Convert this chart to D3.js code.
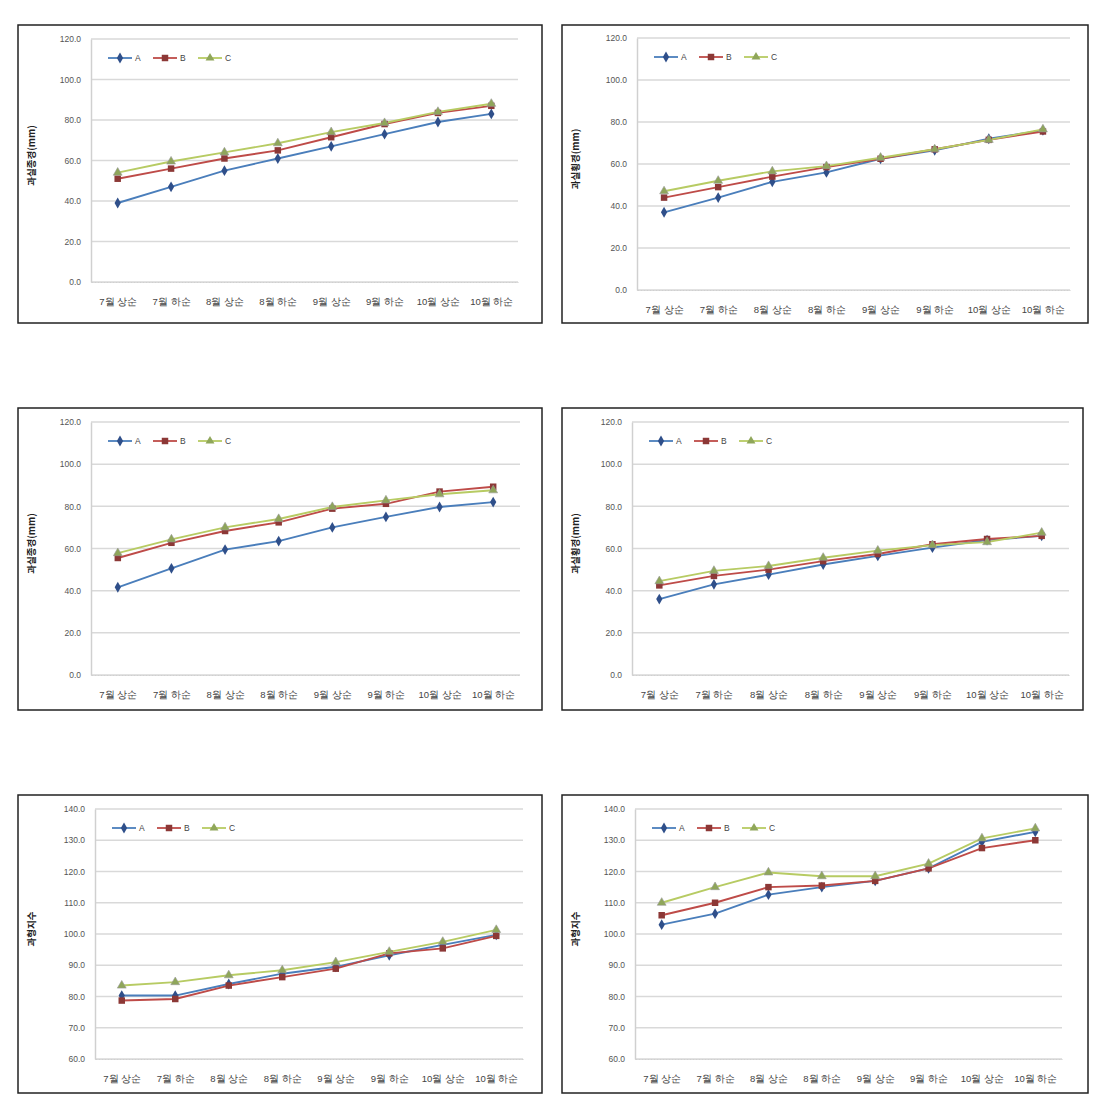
<!DOCTYPE html>
<html><head><meta charset="utf-8">
<script src="https://cdn.jsdelivr.net/npm/d3@7"></script>
<style>body{margin:0;background:#fff;} svg{display:block;font-family:"Noto Sans CJK KR","Noto Sans",sans-serif;}</style>
</head><body>
<svg id="c" width="1113" height="1118"></svg>
<script>
const categories = ["7월 상순","7월 하순","8월 상순","8월 하순","9월 상순","9월 하순","10월 상순","10월 하순"];
const seriesNames = ["A","B","C"];

const ticksSmall = [0,20,40,60,80,100,120];
const ticksLarge = [60,70,80,90,100,110,120,130,140];

const p1A = [39, 47, 55, 61, 67, 73, 79, 83];
const p1B = [51, 56, 61, 65, 71.5, 78, 83.5, 87];
const p1C = [54, 59.5, 64, 68.5, 74, 78.5, 84, 88];

const p2A = [37, 44, 51.5, 56, 62.5, 66.5, 72, 76];
const p2B = [44, 49, 54, 58.5, 62.5, 67, 71.5, 75.5];
const p2C = [47, 52, 56.5, 59, 63, 67, 71.5, 76.5];

const p3A = [41.6, 50.6, 59.5, 63.5, 70, 75, 79.7, 82];
const p3B = [55.5, 62.7, 68.3, 72.4, 78.9, 81.2, 87, 89.3];
const p3C = [57.8, 64.3, 70, 74, 79.7, 82.8, 85.7, 87.6];

const p4A = [36, 43, 47.6, 52.4, 56.5, 60.4, 64, 66];
const p4B = [42.5, 47, 50, 54, 57.4, 62, 64.5, 66];
const p4C = [44.5, 49.4, 51.7, 55.6, 59, 61.6, 63, 67.5];

const p5A = [80.3, 80.3, 84, 87.3, 89.5, 93.2, 96.5, 99.7];
const p5B = [78.7, 79.2, 83.5, 86.2, 88.9, 93.8, 95.4, 99.4];
const p5C = [83.5, 84.6, 86.8, 88.4, 91, 94.3, 97.5, 101.3];

const p6A = [103, 106.5, 112.6, 115, 117, 121, 129.5, 132.7];
const p6B = [106, 110, 115, 115.5, 117, 121, 127.5, 130];
const p6C = [110, 115, 119.7, 118.5, 118.5, 122.5, 130.6, 133.8];

const titles = ["과실종경(mm)","과실횡경(mm)","과실종경(mm)","과실횡경(mm)","과형지수","과형지수"];

const colors = ["#4A7EBB","#BE4B48","#B7CB63"];
const markerColors = ["#2F4F8A","#8C3836","#8FA65A"];
const symbols = [d3.symbolDiamond, d3.symbolSquare, d3.symbolTriangle];

const panels = [
  {box:[18,25,524,298], plot:[91,518,39,282], ticks:ticksSmall, data:[p1A,p1B,p1C], title:titles[0]},
  {box:[562,25,526,298], plot:[637,1070,38,290], ticks:ticksSmall, data:[p2A,p2B,p2C], title:titles[1]},
  {box:[18,408,524,302], plot:[91,520,422,675], ticks:ticksSmall, data:[p3A,p3B,p3C], title:titles[2]},
  {box:[562,408,521,302], plot:[632,1069,422,675], ticks:ticksSmall, data:[p4A,p4B,p4C], title:titles[3]},
  {box:[18,795,524,298], plot:[95,523,809,1059], ticks:ticksLarge, data:[p5A,p5B,p5C], title:titles[4]},
  {box:[562,795,526,298], plot:[635,1062,809,1059], ticks:ticksLarge, data:[p6A,p6B,p6C], title:titles[5]}
];

const svg = d3.select("#c");
const fmt = d3.format(".1f");

panels.forEach(p => {
  const g = svg.append("g");
  const [bx,by,bw,bh] = p.box;
  g.append("rect").attr("x",bx).attr("y",by).attr("width",bw).attr("height",bh)
    .attr("fill","#fff").attr("stroke","#222").attr("stroke-width",1.5);
  const [l,r,t,b] = p.plot;
  const y = d3.scaleLinear().domain(d3.extent(p.ticks)).range([b,t]);
  const x = d3.scalePoint().domain(categories).range([l,r]).padding(0.5);

  g.append("g").selectAll("line").data(p.ticks).join("line")
    .attr("x1",l).attr("x2",r).attr("y1",d=>y(d)).attr("y2",d=>y(d))
    .attr("stroke","#D9D9D9").attr("stroke-width",1.5);
  const ya = g.append("g").attr("transform",`translate(${l},0)`)
    .call(d3.axisLeft(y).tickValues(p.ticks).tickFormat(fmt).tickSize(0).tickPadding(10));
  ya.select(".domain").attr("stroke","#D0D0D0").attr("stroke-width",1.5);
  ya.selectAll("text").attr("fill","#555").style("font-size","8.5px").style("font-family","Liberation Sans, Arial, sans-serif");
  const xa = g.append("g").attr("transform",`translate(0,${b})`)
    .call(d3.axisBottom(x).tickSize(0).tickPadding(16));
  xa.select(".domain").attr("stroke","#D0D0D0").attr("stroke-width",1.2).attr("stroke-dasharray","2,1");
  xa.selectAll("text").attr("fill","#444").style("font-size","9.5px");

  g.append("text").attr("transform",`translate(${bx+17},${(t+b)/2 - 5}) rotate(-90)`)
    .attr("text-anchor","middle").attr("fill","#222").style("font-size","9.5px").style("font-weight","bold")
    .text(p.title);

  const line = d3.line().x((d,i)=>x(categories[i])).y(d=>y(d));
  p.data.forEach((s,k)=>{
    g.append("path").datum(s).attr("d",line).attr("fill","none")
      .attr("stroke",colors[k]).attr("stroke-width",1.9);
  });
  p.data.forEach((s,k)=>{
    g.append("g").selectAll("path").data(s).join("path")
      .attr("transform",(d,i)=>`translate(${x(categories[i])},${y(d)})`)
      .attr("d",d3.symbol().type(symbols[k]).size(k===1?42:34)())
      .attr("fill",markerColors[k]).attr("stroke",k===2?"#999":"none").attr("stroke-width",0.6);
  });

  const lg = g.append("g").attr("transform",`translate(${l+17},${t+19})`);
  seriesNames.forEach((n,k)=>{
    const ox = k*45;
    lg.append("line").attr("x1",ox).attr("x2",ox+24).attr("y1",0).attr("y2",0)
      .attr("stroke",colors[k]).attr("stroke-width",1.8);
    lg.append("path").attr("transform",`translate(${ox+12},0)`)
      .attr("d",d3.symbol().type(symbols[k]).size(k===1?42:34)())
      .attr("fill",markerColors[k]);
    lg.append("text").attr("x",ox+27).attr("y",3).attr("fill","#444")
      .style("font-size","8.5px").style("font-family","Liberation Sans, Arial, sans-serif").text(n);
  });
});
</script>
</body></html>
